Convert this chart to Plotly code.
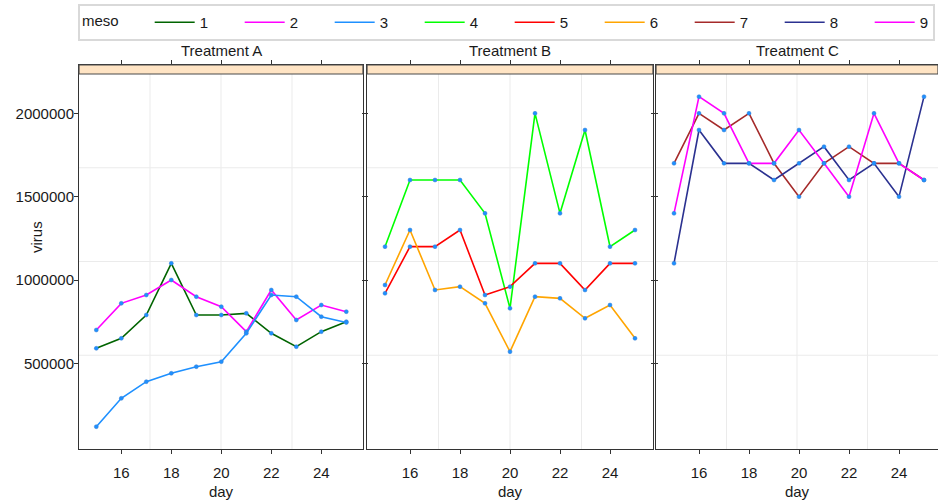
import plotly.graph_objects as go

# ---------------- data ----------------
days = [15, 16, 17, 18, 19, 20, 21, 22, 23, 24, 25]
treatments = ["Treatment A", "Treatment B", "Treatment C"]
meso_ids = ["1", "2", "3", "4", "5", "6", "7", "8", "9"]
meso_treatment = [0, 0, 0, 1, 1, 1, 2, 2, 2]
meso_colors = ["#006400", "#FF00FF", "#1E90FF", "#00FF00", "#FF0000",
               "#FFA500", "#A52A2A", "#2B3190", "#FF00FF"]

virus_1 = [590000, 650000, 790000, 1100000, 790000, 790000, 800000, 680000, 600000, 690000, 750000]
virus_2 = [700000, 860000, 910000, 1000000, 900000, 840000, 690000, 940000, 760000, 850000, 810000]
virus_3 = [120000, 290000, 390000, 440000, 480000, 510000, 680000, 910000, 900000, 780000, 745000]
virus_4 = [1200000, 1600000, 1600000, 1600000, 1400000, 830000, 2000000, 1400000, 1900000, 1200000, 1300000]
virus_5 = [920000, 1200000, 1200000, 1300000, 910000, 960000, 1100000, 1100000, 940000, 1100000, 1100000]
virus_6 = [970000, 1300000, 940000, 960000, 860000, 570000, 900000, 890000, 770000, 850000, 650000]
virus_7 = [1700000, 2000000, 1900000, 2000000, 1700000, 1500000, 1700000, 1800000, 1700000, 1700000, 1600000]
virus_8 = [1100000, 1900000, 1700000, 1700000, 1600000, 1700000, 1800000, 1600000, 1700000, 1500000, 2100000]
virus_9 = [1400000, 2100000, 2000000, 1700000, 1700000, 1900000, 1700000, 1500000, 2000000, 1700000, 1600000]
virus = [virus_1, virus_2, virus_3, virus_4, virus_5, virus_6, virus_7, virus_8, virus_9]

x_tickvals = [16, 18, 20, 22, 24]
y_tickvals = [500000, 1000000, 1500000, 2000000]

# ---------------- geometry / style ----------------
W, H = 938, 501
ML, MR, MT, MB = 79, 0, 65, 52
PW = W - ML - MR
PH = H - MT - MB
STRIP_PX = 9
panel_px = [(79, 363, 121.3), (367, 653, 410), (656, 938, 699)]  # left, right, pixel of day 16
PX_PER_DAY = 25.0
FONT = "Liberation Sans, Arial, Helvetica, sans-serif"
AXCOL = "#333333"

fig = go.Figure()

axnames = ["", "2", "3"]

for i, mid in enumerate(meso_ids):
    t = meso_treatment[i]
    fig.add_trace(go.Scatter(
        x=days, y=virus[i], mode="lines", name=mid,
        line=dict(color=meso_colors[i], width=1.6),
        xaxis="x" + axnames[t], yaxis="y" + axnames[t],
        legendgroup=mid, showlegend=True,
        legendwidth=(8 if i == len(meso_ids) - 1 else None)))
for i, mid in enumerate(meso_ids):
    t = meso_treatment[i]
    fig.add_trace(go.Scatter(
        x=days, y=virus[i], mode="markers", name=mid,
        marker=dict(color="#1E90FF", size=4, line=dict(color="#3a7fd0", width=0.5)),
        xaxis="x" + axnames[t], yaxis="y" + axnames[t],
        legendgroup=mid, showlegend=False))

layout = dict(
    width=W, height=H,
    margin=dict(l=ML, r=MR, t=MT, b=MB, pad=0, autoexpand=False),
    paper_bgcolor="white", plot_bgcolor="white",
    font=dict(family=FONT, size=15, color="#1a1a1a"),
    showlegend=True,
    legend=dict(
        orientation="h", xref="container", yref="container",
        x=78 / W, y=1 - 4 / H, xanchor="left", yanchor="top",
        bgcolor="white", bordercolor="#d9d9d9", borderwidth=2,
        title=dict(text="meso      ", font=dict(size=15)),
        font=dict(size=15),
        entrywidth=35, entrywidthmode="pixels", itemwidth=40,
        tracegroupgap=0,
    ),
)

y_lo = 1000000 - (H - MB - 280) * 6000
y_hi = 1000000 + (280 - MT) * 6000

shapes = []
annotations = []
panel_top_frac = (PH - STRIP_PX) / PH
for k, (left, right, p16) in enumerate(panel_px):
    n = axnames[k]
    lo = 16 - (p16 - left) / PX_PER_DAY
    hi = lo + (right - left) / PX_PER_DAY
    layout["xaxis" + n] = dict(
        domain=[(left - ML) / PW, (right - ML) / PW],
        range=[lo, hi], anchor="y" + n,
        tickvals=x_tickvals, ticks="outside", ticklen=4, tickcolor=AXCOL,
        showline=True, linecolor=AXCOL, linewidth=1, mirror="ticks",
        showgrid=False, zeroline=False, ticklabelstandoff=6,
        tickfont=dict(size=15, color="#1a1a1a"),
        title=dict(text="day", font=dict(size=15), standoff=6),
    )
    yax = dict(
        domain=[0, 1], range=[y_lo, y_hi], anchor="x" + n,
        tickvals=y_tickvals, tickformat="d", ticks="outside", ticklen=4, tickcolor=AXCOL,
        showline=True, linecolor=AXCOL, linewidth=1,
        mirror="ticks" if k < 2 else False,
        showgrid=False, zeroline=False,
        tickfont=dict(size=15, color="#1a1a1a"),
    )
    if k == 0:
        yax["ticklabelstandoff"] = -3
    else:
        yax["showticklabels"] = False
    layout["yaxis" + n] = yax

    xr = "x" + n + " domain"
    yr = "y" + n + " domain"
    # quarter grid lines
    for f in (0.25, 0.5, 0.75):
        shapes.append(dict(type="line", xref=xr, yref=yr, x0=f, x1=f, y0=0, y1=panel_top_frac,
                           line=dict(color="#ebebeb", width=1), layer="below"))
        shapes.append(dict(type="line", xref=xr, yref=yr, x0=0, x1=1,
                           y0=f * panel_top_frac, y1=f * panel_top_frac,
                           line=dict(color="#ebebeb", width=1), layer="below"))
    # strip
    shapes.append(dict(type="rect", xref=xr, yref=yr, x0=0, x1=1, y0=panel_top_frac, y1=1,
                       fillcolor="#FFE4C4", line=dict(color="#4a4a4a", width=1.2), layer="above"))
    annotations.append(dict(text=treatments[k], xref=xr, yref="paper", x=0.5,
                            y=1 + (MT - 50) / PH, yanchor="middle", xanchor="center",
                            showarrow=False, font=dict(size=15, color="#1a1a1a")))

# y-axis title placed over the label column, as in the reference
annotations.append(dict(text="virus", xref="paper", yref="paper",
                        x=(36 - ML) / PW, y=(H - MB - 237) / PH, textangle=-90,
                        xanchor="center", yanchor="middle", showarrow=False,
                        font=dict(size=15, color="#1a1a1a")))

layout["shapes"] = shapes
layout["annotations"] = annotations
fig.update_layout(**layout)

fig.write_html("out.html")
